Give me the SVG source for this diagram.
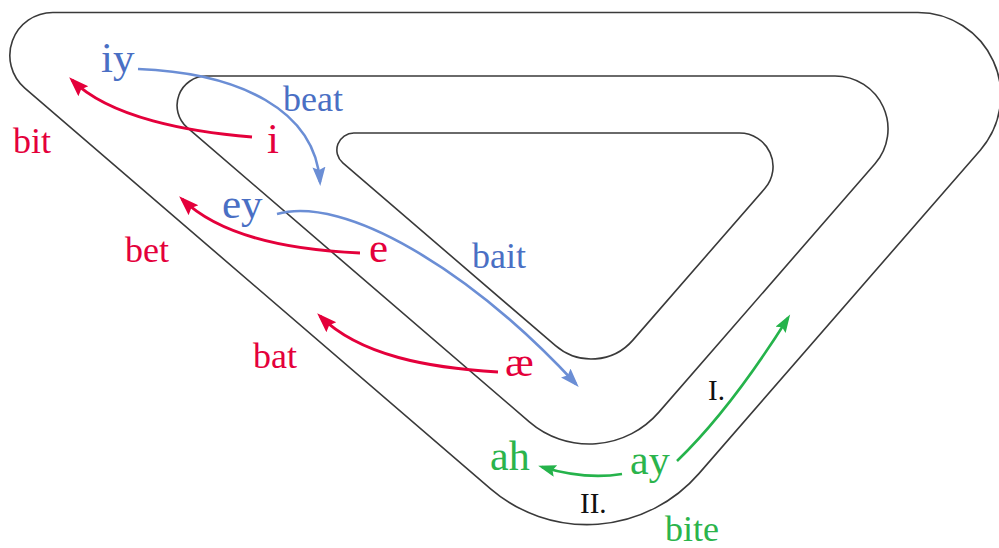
<svg xmlns="http://www.w3.org/2000/svg" width="999" height="548" viewBox="0 0 999 548">
<style>
.track{fill:none;stroke:#3a3a3a;stroke-width:1.6}
.red{fill:none;stroke:#e4003b;stroke-width:3}
.blue{fill:none;stroke:#6b8ed5;stroke-width:2.6}
.green{fill:none;stroke:#25b34b;stroke-width:2.6}
text{font-family:"Liberation Serif","Times New Roman",serif}
.vr{fill:#e4003b;font-size:43px}
.vb{fill:#4a6fc4;font-size:43px}
.vg{fill:#2bb44c;font-size:42px}
.wr{fill:#e4003b;font-size:36px}
.wb{fill:#4a6fc4;font-size:36px}
.wg{fill:#2bb44c;font-size:36px}
.num{fill:#111;font-size:29px}
</style>
<defs>
<marker id="ahR" markerUnits="userSpaceOnUse" markerWidth="22" markerHeight="16" refX="16" refY="7" orient="auto"><path d="M0,0 L20,7 L0,14 L3,7 z" fill="#e4003b"/></marker>
<marker id="ahB" markerUnits="userSpaceOnUse" markerWidth="22" markerHeight="16" refX="15" refY="6.5" orient="auto"><path d="M0,0 L19,6.5 L0,13 L3,6.5 z" fill="#6b8ed5"/></marker>
<marker id="ahG" markerUnits="userSpaceOnUse" markerWidth="20" markerHeight="14" refX="14" refY="6" orient="auto"><path d="M0,0 L18,6 L0,12 L3,6 z" fill="#25b34b"/></marker>
</defs>
<rect width="999" height="548" fill="#fff"/>
<g id="tracks">
<path id="outer" class="track" d="M52.8,12.5 H917.9 A83,83 0 0 1 980.5,149.9 L698.9,473.6 A148,148 0 0 1 490.6,488.8 L24.8,88.1 A43,43 0 0 1 52.8,12.5 Z"/>
<path id="middle" class="track" d="M206.5,76 H835 A53,53 0 0 1 875,163.8 L658.7,412.4 A92,92 0 0 1 529.3,421.8 L187.3,127.7 A29.4,29.4 0 0 1 206.5,76 Z"/>
<path id="inner" class="track" d="M353.9,133 H739.5 A33.5,33.5 0 0 1 764.8,188.5 L632.9,340.1 A55,55 0 0 1 555.5,345.7 L342.8,162.9 A17,17 0 0 1 353.9,133 Z"/>
</g>
<g id="connectors">
<path id="i-bit" class="red" d="M252,137 C190,132 110,118 72,80" marker-end="url(#ahR)"/>
<path id="e-bet" class="red" d="M360,253 C290,250 220,236 182,199" marker-end="url(#ahR)"/>
<path id="ae-bat" class="red" d="M498,372 C430,368 360,356 320,316" marker-end="url(#ahR)"/>
<path id="iy-beat" class="blue" d="M138,69 C240,73 315,110 320,182" marker-end="url(#ahB)"/>
<path id="ey-bait" class="blue" d="M277,214 C345,195 470,270 576,384" marker-end="url(#ahB)"/>
<path id="ay-I" class="green" d="M677,461 Q730,410 788,318" marker-end="url(#ahG)"/>
<path id="ay-ah" class="green" d="M622,474 Q585,480 542,467" marker-end="url(#ahG)"/>
</g>
<g id="n-iy"><text class="vb" x="101" y="72">iy</text></g>
<g id="n-beat"><text class="wb" x="283" y="111">beat</text></g>
<g id="n-bit"><text class="wr" x="13" y="153">bit</text></g>
<g id="n-i"><text class="vr" x="267" y="153">i</text></g>
<g id="n-ey"><text class="vb" x="222" y="218">ey</text></g>
<g id="n-e"><text class="vr" x="369" y="262">e</text></g>
<g id="n-bet"><text class="wr" x="125" y="262">bet</text></g>
<g id="n-bait"><text class="wb" x="472" y="268">bait</text></g>
<g id="n-bat"><text class="wr" x="253" y="368">bat</text></g>
<g id="n-ae"><text class="vr" x="505" y="376">æ</text></g>
<g id="n-I"><text class="num" x="708" y="400">I.</text></g>
<g id="n-ah"><text class="vg" x="490" y="470">ah</text></g>
<g id="n-ay"><text class="vg" x="630" y="474">ay</text></g>
<g id="n-II"><text class="num" x="580" y="513">II.</text></g>
<g id="n-bite"><text class="wg" x="665" y="541">bite</text></g>
</svg>
